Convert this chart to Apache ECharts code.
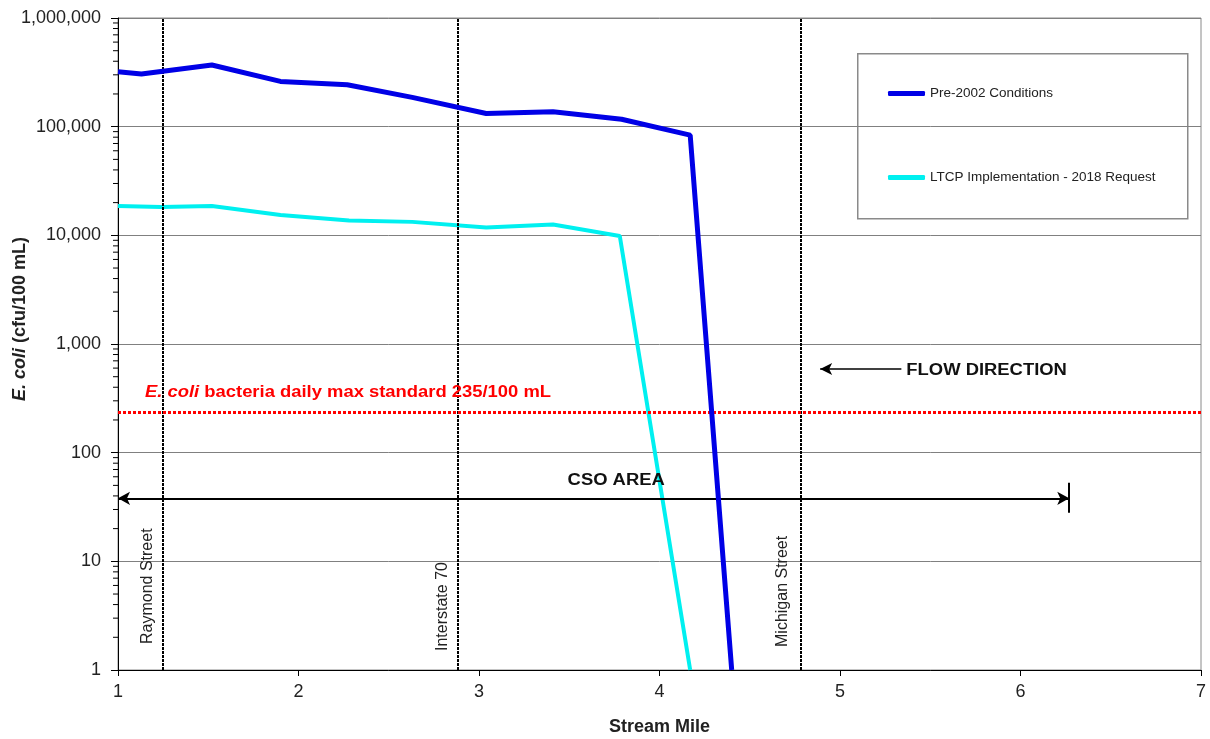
<!DOCTYPE html>
<html>
<head>
<meta charset="utf-8">
<script src="https://cdn.jsdelivr.net/npm/echarts@6.0.0/dist/echarts.min.js"></script>
<style>
  html, body { margin: 0; padding: 0; background: #fff; }
  #chart { width: 1210px; height: 739px; }
</style>
</head>
<body>
<div id="chart"></div>
<script>
// Stream mile positions and E. coli concentrations (cfu/100 mL)
const streamMilePre = [1.00, 1.13, 1.52, 1.90, 2.27, 2.63, 3.04, 3.41, 3.79, 4.17, 4.40];
const ecoliPre      = [320000, 305000, 369000, 261000, 243000, 186000, 132000, 137000, 117000, 83500, 1];

const streamMileLtcp = [1.00, 1.24, 1.52, 1.90, 2.28, 2.63, 3.04, 3.41, 3.78, 4.17];
const ecoliLtcp      = [18600, 18200, 18600, 15400, 13700, 13300, 11800, 12600, 9860, 1];

const seriesNames = ['Pre-2002 Conditions', 'LTCP Implementation - 2018 Request'];

// Landmarks along the stream
const landmarkMiles = [1.247, 2.884, 4.776];
const landmarkNames = ['Raymond Street', 'Interstate 70', 'Michigan Street'];

// Water quality standard
const standardValue = 235;
const standardText = '{i|E. coli} bacteria daily max standard 235/100 mL';

// CSO area span and flow direction arrow
const csoSpan = [1, 6.27];
const csoLevel = 38;
const csoBar = [28, 53];
const csoText = 'CSO AREA';
const flowSpan = [5.34, 4.89];
const flowLevel = 590;
const flowText = 'FLOW DIRECTION';

// Axes
const xTicks = [1, 2, 3, 4, 5, 6, 7];
const yTicks = [1, 10, 100, 1000, 10000, 100000, 1000000];
const xTitle = 'Stream Mile';
const yTitle = '{i|E. coli} (cfu/100 mL)';

const FONT = '"Liberation Sans", Arial, Helvetica, sans-serif';
const WIDE = 1.15; // horizontal stretch of annotation lettering

// minor log ticks 2..9 within each decade
const minorTicks = [];
for (let d = 0; d < yTicks.length - 1; d++) {
  for (let m = 2; m <= 9; m++) minorTicks.push([xTicks[0], m * yTicks[d]]);
}

const chart = echarts.init(document.getElementById('chart'), null, { renderer: 'canvas' });

const option = {
  backgroundColor: '#fff',
  animation: false,
  textStyle: { fontFamily: FONT },
  grid: {
    left: 118, right: 9, top: 18, bottom: 69,
    containLabel: false, outerBoundsMode: 'none',
    show: true, borderColor: '#8a8a8a', borderWidth: 1, backgroundColor: 'transparent'
  },
  legend: {
    orient: 'vertical',
    left: 883, top: 81.5,
    itemWidth: 37, itemHeight: 5, itemGap: 70,
    icon: 'roundRect',
    data: seriesNames,
    textStyle: { fontFamily: FONT, fontSize: 13.5, color: '#222' }
  },
  xAxis: {
    type: 'value',
    min: xTicks[0], max: xTicks[xTicks.length - 1], interval: 1,
    name: xTitle, nameLocation: 'middle', nameGap: 48,
    nameTextStyle: { fontFamily: FONT, fontSize: 18, fontWeight: 'bold', color: '#222' },
    axisLine: { lineStyle: { color: '#000', width: 1 } },
    axisTick: { show: true, inside: false, length: 6, lineStyle: { color: '#000' } },
    axisLabel: { fontFamily: FONT, fontSize: 18, color: '#222', margin: 13 },
    splitLine: { show: false }
  },
  yAxis: {
    type: 'log', logBase: 10,
    min: yTicks[0], max: yTicks[yTicks.length - 1],
    axisLine: { show: true, lineStyle: { color: '#000', width: 1 } },
    axisTick: { show: true, inside: false, length: 7, lineStyle: { color: '#000' } },
    axisLabel: {
      fontFamily: FONT, fontSize: 18, color: '#222', margin: 17,
      formatter: v => Math.round(v).toLocaleString('en-US')
    },
    splitLine: { show: true, lineStyle: { color: '#808080', width: 1 } }
  },
  graphic: [
    { type: 'rect', left: 857, top: 53, z: 0,
      shape: { width: 330, height: 165 },
      style: { fill: '#fff', stroke: '#8a8a8a', lineWidth: 1.5 } },
    { type: 'text', z: 10, x: 20, y: 319, rotation: Math.PI / 2,
      style: {
        text: yTitle, fill: '#222', font: 'bold 18px ' + FONT,
        align: 'center', verticalAlign: 'middle',
        rich: { i: { fill: '#222', font: 'italic bold 18px ' + FONT } }
      } }
  ],
  series: [
    {
      name: seriesNames[0], type: 'line', z: 5,
      data: streamMilePre.map((m, i) => [m, ecoliPre[i]]),
      symbol: 'none', smooth: false,
      lineStyle: { color: '#0000E6', width: 5 },
      itemStyle: { color: '#0000E6' }
    },
    {
      name: seriesNames[1], type: 'line', z: 4,
      data: streamMileLtcp.map((m, i) => [m, ecoliLtcp[i]]),
      symbol: 'none', smooth: false,
      lineStyle: { color: '#00F0F0', width: 4 },
      itemStyle: { color: '#00F0F0' }
    },
    {
      // landmarks, standard line and CSO / flow arrows
      name: 'annotations', type: 'line', data: [], z: 3,
      markLine: {
        silent: true, animation: false,
        symbol: ['none', 'none'],
        label: { show: false },
        data: [
          ...landmarkMiles.map(m => ({
            xAxis: m,
            lineStyle: { color: '#000', width: 2, type: [3, 1] }
          })),
          {
            yAxis: standardValue,
            lineStyle: { color: '#FF0000', width: 3, type: [3, 2] }
          },
          [
            { coord: [csoSpan[0], csoLevel], symbol: 'arrow', symbolSize: [10, 12],
              lineStyle: { color: '#000', width: 2, type: 'solid' } },
            { coord: [csoSpan[1], csoLevel], symbol: 'arrow', symbolSize: [10, 12] }
          ],
          [
            { coord: [csoSpan[1], csoBar[0]], symbol: 'none',
              lineStyle: { color: '#000', width: 2, type: 'solid' } },
            { coord: [csoSpan[1], csoBar[1]], symbol: 'none' }
          ],
          [
            { coord: [flowSpan[0], flowLevel], symbol: 'none',
              lineStyle: { color: '#000', width: 1.5, type: 'solid' } },
            { coord: [flowSpan[1], flowLevel], symbol: 'arrow', symbolSize: [9, 12] }
          ]
        ]
      }
    },
    {
      // minor ticks for the log axis
      name: 'minorTicks', type: 'custom', clip: false, silent: true,
      data: minorTicks,
      renderItem: (params, api) => {
        const p = api.coord([api.value(0), api.value(1)]);
        return {
          type: 'line',
          shape: { x1: p[0] - 5, y1: p[1], x2: p[0], y2: p[1] },
          style: { stroke: '#000', lineWidth: 1 }
        };
      }
    }
  ]
};

chart.setOption(option);

// text annotations placed at data coordinates
const px = (x, y) => chart.convertToPixel({ gridIndex: 0 }, [x, y]);
const texts = [];

const stdPt = px(xTicks[0], standardValue);
texts.push({
  type: 'text', z: 10, x: stdPt[0] + 27, y: stdPt[1] - 20, scaleX: WIDE,
  style: {
    text: standardText, fill: '#FF0000', font: 'bold 16px ' + FONT,
    verticalAlign: 'middle', align: 'left',
    rich: { i: { fill: '#FF0000', font: 'italic bold 16px ' + FONT } }
  }
});

const csoPt = px(3.76, csoLevel);
texts.push({
  type: 'text', z: 10, x: csoPt[0], y: csoPt[1] - 18, scaleX: WIDE,
  style: { text: csoText, fill: '#111', font: 'bold 16px ' + FONT, align: 'center', verticalAlign: 'middle' }
});

const flowPt = px(flowSpan[0], flowLevel);
texts.push({
  type: 'text', z: 10, x: flowPt[0] + 5, y: flowPt[1] + 2, scaleX: WIDE,
  style: { text: flowText, fill: '#111', font: 'bold 16px ' + FONT, align: 'left', verticalAlign: 'middle' }
});

const bottomOffsets = [26, 19, 23];
const sideOffsets = [15, 15, 17];
landmarkMiles.forEach((m, i) => {
  const p = px(m, yTicks[0]);
  texts.push({
    type: 'text', z: 10, x: p[0] - sideOffsets[i], y: p[1] - bottomOffsets[i],
    rotation: Math.PI / 2,
    style: { text: landmarkNames[i], fill: '#222', font: '16px ' + FONT, align: 'left', verticalAlign: 'middle' }
  });
});

chart.setOption({ graphic: option.graphic.concat(texts) });
</script>
</body>
</html>
